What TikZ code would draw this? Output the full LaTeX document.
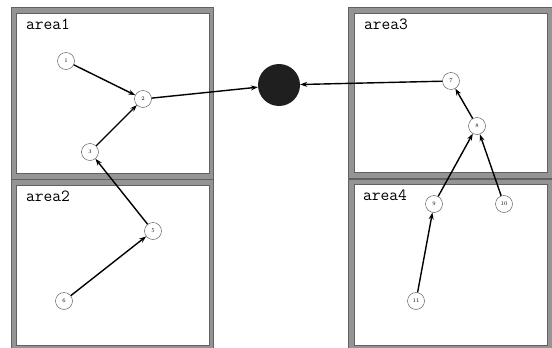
\documentclass[tikz,border=0pt]{standalone}
\usetikzlibrary{arrows.meta}
\begin{document}
\begin{tikzpicture}[x=1pt,y=-1pt,
  areaout/.style={fill=black!42,draw=black!62,line width=0.8pt},
  areain/.style={fill=white,draw=black!62,line width=0.8pt},
  arealabel/.style={anchor=base west,inner sep=0pt,font=\fontsize{17}{17}\selectfont\ttfamily},
  vnode/.style={circle,draw=black!70,line width=0.4pt,fill=white,minimum size=17pt,inner sep=0pt,font=\fontsize{5.5}{5.5}\selectfont},
  sink/.style={circle,fill=black!88,minimum size=42pt,inner sep=0pt},
  edge/.style={line width=1.4pt,-{Stealth[length=7pt,width=5pt]}}]
\useasboundingbox (0,0) rectangle (552,348);
\fill[white] (0,0) rectangle (552,348);
% areas
\draw[areaout] (11,7.5) rectangle (213.5,179);
\draw[areain] (16.5,13) rectangle (209,173.5);
\draw[areaout] (11,179.5) rectangle (213.5,350);
\draw[areain] (16.5,185) rectangle (209,345.5);
\draw[areaout] (348.5,7.5) rectangle (555,178.5);
\draw[areain] (354,13) rectangle (547,172.5);
\draw[areaout] (348.5,179) rectangle (555,350);
\draw[areain] (354,184.5) rectangle (547,345);
\node[arealabel] (l1) at (26,30) {area1};
\node[arealabel] (l2) at (26,201) {area2};
\node[arealabel] (l3) at (364,29) {area3};
\node[arealabel] (l4) at (363,200) {area4};
% nodes
\node[vnode] (n1) at (66,61) {1};
\node[vnode] (n2) at (143,99) {2};
\node[vnode] (n3) at (90,152) {3};
\node[vnode] (n5) at (153,231) {5};
\node[vnode] (n6) at (64,301) {6};
\node[vnode] (n7) at (451,81) {7};
\node[vnode] (n8) at (477,126) {8};
\node[vnode] (n9) at (434,204) {9};
\node[vnode] (n10) at (504,204) {10};
\node[vnode] (n11) at (416,301) {11};
\node[sink] (s) at (279,85) {};
% edges
\draw[edge] (n1) -- (n2);
\draw[edge] (n3) -- (n2);
\draw[edge] (n2) -- (s);
\draw[edge] (n5) -- (n3);
\draw[edge] (n6) -- (n5);
\draw[edge] (n7) -- (s);
\draw[edge] (n8) -- (n7);
\draw[edge] (n9) -- (n8);
\draw[edge] (n10) -- (n8);
\draw[edge] (n11) -- (n9);
\end{tikzpicture}
\end{document}
